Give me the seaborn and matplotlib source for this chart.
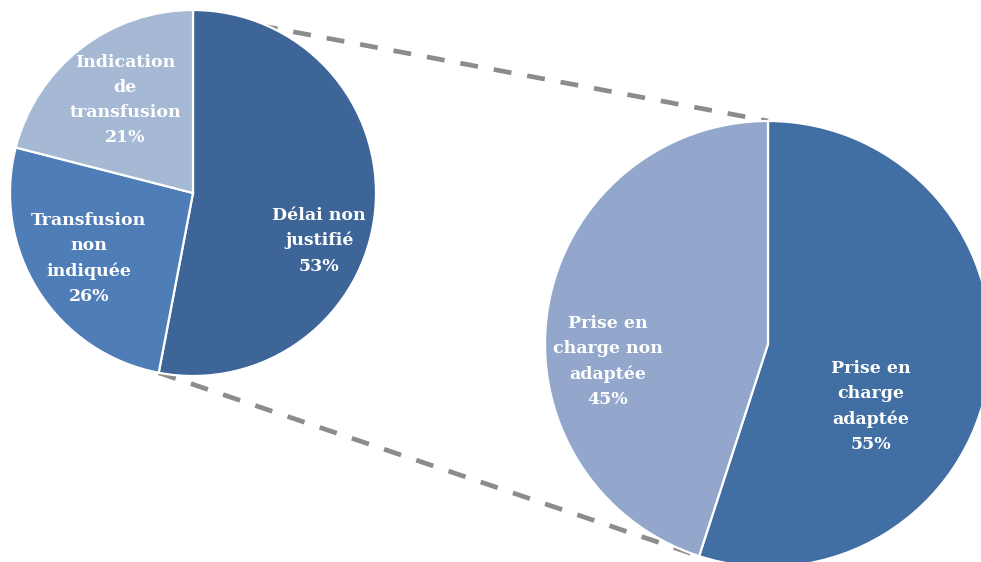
import numpy as np
import matplotlib
matplotlib.use("Agg")
import matplotlib.pyplot as plt
import seaborn as sns

# Main pie: reasons
main_labels = ["Délai non\njustifié", "Transfusion\nnon\nindiquée", "Indication\nde\ntransfusion"]
main_values = [53, 26, 21]
main_colors = ["#3E6598", "#4E7DB8", "#A5B8D4"]

# Secondary pie: breakdown of "Délai non justifié"
sub_labels = ["Prise en\ncharge\nadaptée", "Prise en\ncharge non\nadaptée"]
sub_values = [55, 45]
sub_colors = ["#416FA3", "#92A7CB"]

# Label anchor offsets in units of the pie radius
main_label_pos = [(0.69, -0.26), (-0.57, -0.36), (-0.37, 0.51)]
sub_label_pos = [(0.46, -0.28), (-0.72, -0.08)]

W, H = 981, 562
main_center, main_r = (193, H - 193), 183
sub_center, sub_r = (768, H - 344), 223

sns.set_theme(style="white")
plt.rcParams["font.family"] = ["DejaVu Serif"]

fig = plt.figure(figsize=(W / 100, H / 100), dpi=100)
ax = fig.add_axes([0, 0, 1, 1])

wedge_kw = dict(edgecolor="white", linewidth=1.6)
main_wedges, _ = ax.pie(main_values, colors=main_colors, startangle=90, counterclock=False,
                        center=main_center, radius=main_r, wedgeprops=wedge_kw)
sub_wedges, _ = ax.pie(sub_values, colors=sub_colors, startangle=90, counterclock=False,
                       center=sub_center, radius=sub_r, wedgeprops=wedge_kw)
for w in list(main_wedges) + list(sub_wedges):
    w.set_zorder(3)


def edge_point(center, r, angle_deg):
    a = np.deg2rad(angle_deg)
    return center[0] + r * np.cos(a), center[1] + r * np.sin(a)


# Connectors join the edges of the split slice to the secondary pie
split_start = 90
split_end = 90 - 360 * main_values[0] / sum(main_values)
sub_end = 90 - 360 * sub_values[0] / sum(sub_values)
p1 = edge_point(main_center, main_r - 3, split_start)
q1 = edge_point(sub_center, sub_r, 90)
p2 = edge_point(main_center, main_r, split_end)
q2 = edge_point(sub_center, sub_r, sub_end)
for p, q, off in [(p1, q1, 0.0), (p2, q2, 0.0)]:
    ax.plot([p[0], q[0]], [p[1], q[1]], color="#8C8C8C", lw=3.4,
            linestyle=(off, (3.8, 3.4)), dash_capstyle="butt", zorder=1)

text_kw = dict(color="white", fontsize=12.5, fontweight="bold", ha="center", va="center",
               linespacing=1.62, zorder=5)
for lab, v, (dx, dy) in zip(main_labels, main_values, main_label_pos):
    ax.text(main_center[0] + dx * main_r, main_center[1] + dy * main_r, f"{lab}\n{v}%", **text_kw)
for lab, v, (dx, dy) in zip(sub_labels, sub_values, sub_label_pos):
    ax.text(sub_center[0] + dx * sub_r, sub_center[1] + dy * sub_r, f"{lab}\n{v}%", **text_kw)

ax.set_xlim(0, W)
ax.set_ylim(0, H)
ax.set_aspect("equal")
ax.axis("off")

fig.savefig("out.png", dpi=100, facecolor="white")
